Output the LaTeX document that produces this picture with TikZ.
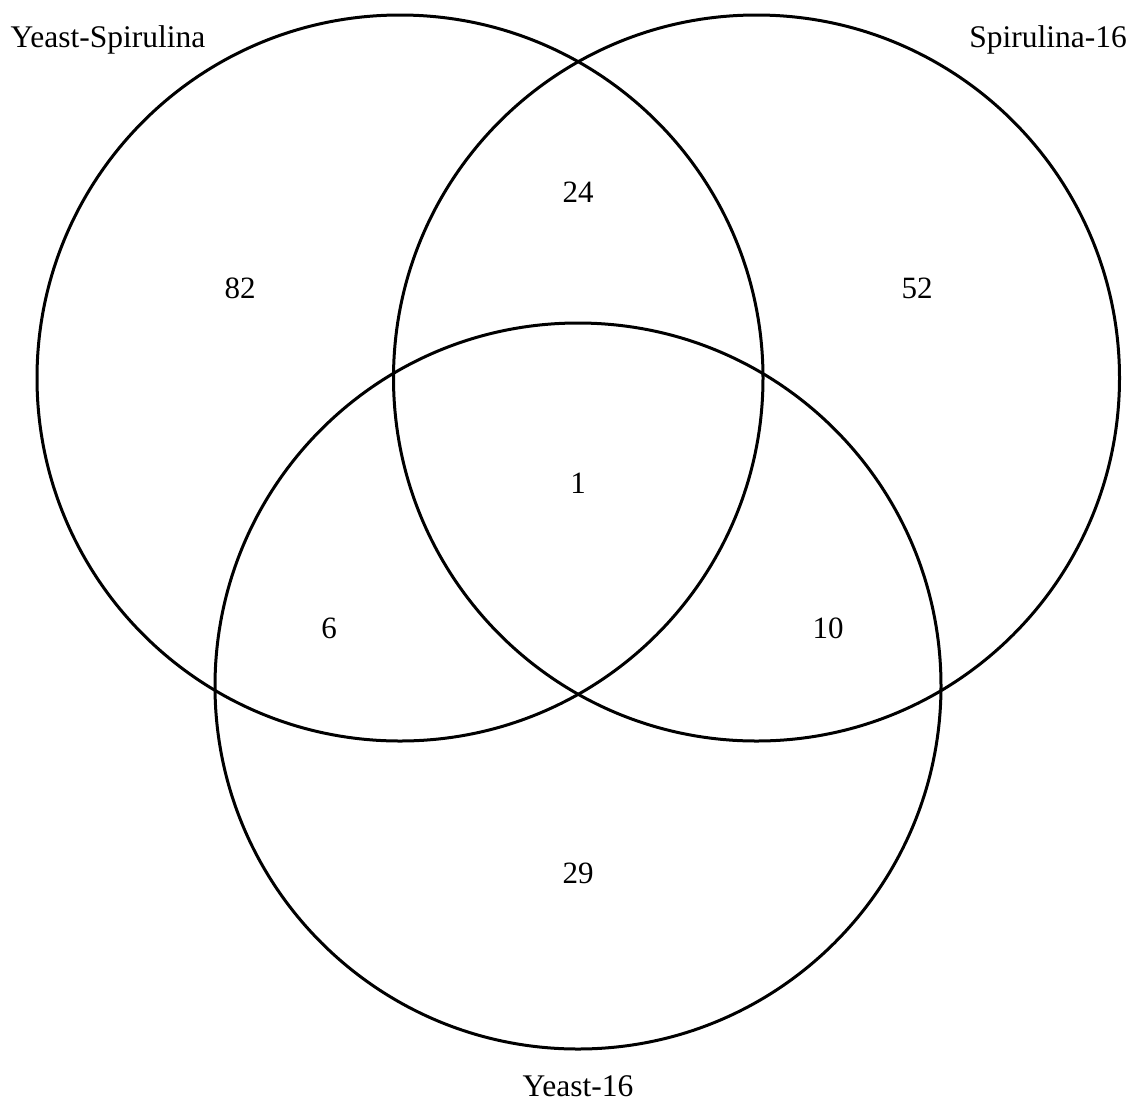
\documentclass[tikz,border=0pt]{standalone}
\usepackage{fontspec}
\setmainfont{Liberation Serif}
\begin{document}
\begin{tikzpicture}[x=1pt,y=-1pt,
  ring/.style={draw=black,line width=3pt,circle,minimum size=726pt,inner sep=0pt},
  lbl/.style={font=\fontsize{31.5}{37}\selectfont,inner sep=0pt},
  num/.style={font=\fontsize{31}{37}\selectfont,inner sep=0pt}]
\useasboundingbox[fill=white] (0,0) rectangle (1135,1104);
\node[ring] (A) at (400,378) {};
\node[ring] (B) at (756.5,378) {};
\node[ring] (C) at (578,686) {};
\node[lbl] (la) at (108,40) {Yeast-Spirulina};
\node[lbl] (lb) at (1048,40) {Spirulina-16};
\node[lbl] (lc) at (578,1086) {Yeast-16};
\node[num] (n82) at (240,288) {82};
\node[num] (n24) at (578,192) {24};
\node[num] (n52) at (917,288) {52};
\node[num] (n1) at (578,483) {1};
\node[num] (n6) at (329,628) {6};
\node[num] (n10) at (828,628) {10};
\node[num] (n29) at (578,873) {29};
\end{tikzpicture}
\end{document}
